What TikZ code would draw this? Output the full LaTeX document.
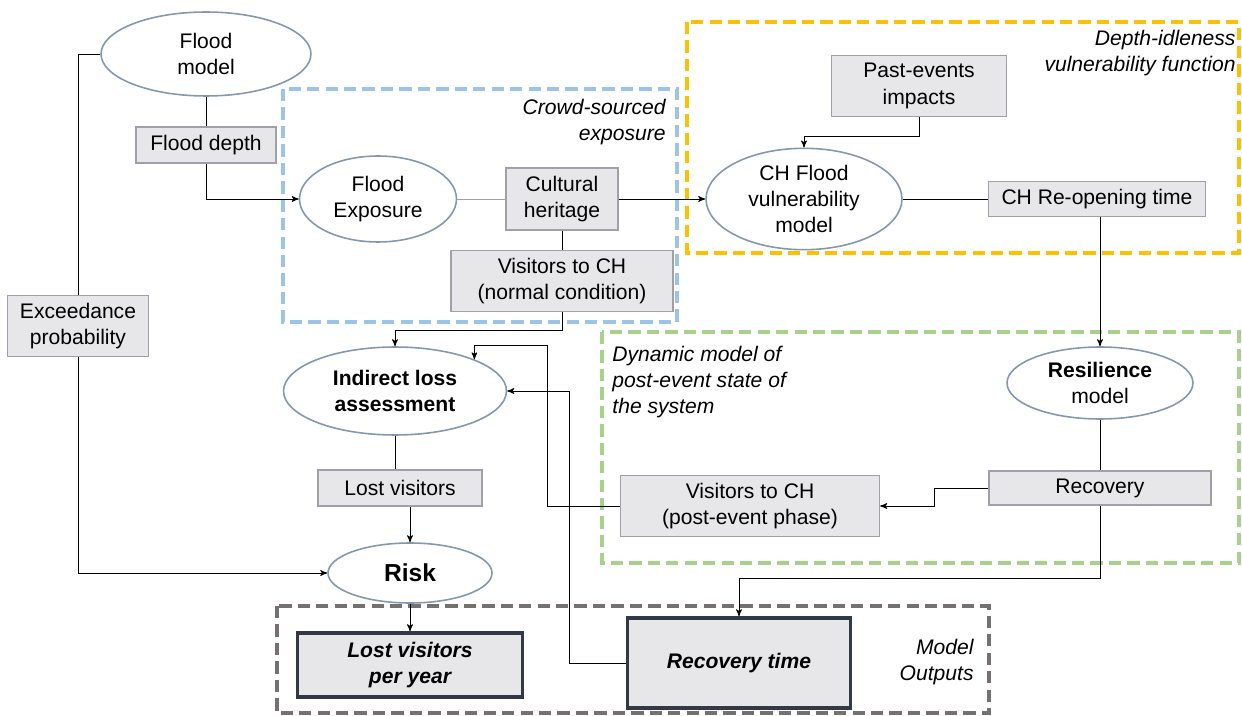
\documentclass[tikz,border=0pt]{standalone}
\usepackage{fontspec}
\setmainfont{Liberation Sans}
\usetikzlibrary{arrows, shapes}

\definecolor{ellipseline}{RGB}{132,151,176}
\definecolor{boxline}{RGB}{160,160,170}
\definecolor{boxfill}{RGB}{231,230,233}
\definecolor{outline}{RGB}{50,56,70}
\definecolor{crowdblue}{RGB}{157,195,230}
\definecolor{vulnyellow}{RGB}{255,192,0}
\definecolor{dyngreen}{RGB}{169,209,142}
\definecolor{outgray}{RGB}{118,113,113}

\begin{document}
\begin{tikzpicture}[x=0.02cm,y=-0.02cm,>=stealth',line width=0.5pt,
 font=\fontsize{12}{15}\selectfont,
 model node/.style={ellipse,draw=ellipseline,fill=white,line width=0.9pt,align=center,inner sep=1pt},
 data node/.style={rectangle,draw=boxline,fill=boxfill,line width=0.8pt,align=center},
 output node/.style={rectangle,draw=outline,fill=boxfill,line width=2pt,align=center,
   font=\fontsize{12}{15}\selectfont\bfseries\itshape},
 group frame/.style={line width=2.4pt,dash pattern=on 7pt off 3.5pt},
 frame label/.style={font=\fontsize{12}{15}\selectfont\itshape,align=right,inner sep=0pt}]
  \useasboundingbox (0,0) rectangle (1242,716);

  % dashed groups
  \draw[group frame,crowdblue] (283,89) rectangle (677,322);
  \draw[group frame,vulnyellow] (687,22) rectangle (1239,253);
  \draw[group frame,dyngreen] (602,332) rectangle (1239,563);
  \draw[group frame,outgray] (277,606) rectangle (989,713);

  % models
  \node[model node,minimum width=4.2cm,minimum height=1.68cm] (fmodel) at (206,54) {Flood\\model};
  \node[model node,minimum width=3.14cm,minimum height=1.72cm] (fexpo) at (378,199) {Flood\\Exposure};
  \node[model node,minimum width=3.92cm,minimum height=1.76cm] (chflood) at (804,199) {CH Flood\\vulnerability\\model};
  \node[model node,minimum width=3.72cm,minimum height=1.44cm] (resil) at (1100,383) {\textbf{Resilience}\\model};
  \node[model node,minimum width=4.46cm,minimum height=1.76cm,font=\fontsize{12}{15}\selectfont\bfseries] (indirect) at (395,391) {Indirect loss\\assessment};
  \node[model node,minimum width=3.28cm,minimum height=1.2cm,font=\fontsize{14}{16}\selectfont\bfseries] (risk) at (410,573) {Risk};

  % data
  \node[data node,minimum width=2.8cm,minimum height=0.72cm] (fdepth) at (206,145) {Flood depth};
  \node[data node,minimum width=2.82cm,minimum height=1.22cm] (exceed) at (78,326) {Exceedance\\probability};
  \node[data node,minimum width=2.24cm,minimum height=1.24cm] (cultural) at (562,199) {Cultural\\heritage};
  \node[data node,minimum width=4.44cm,minimum height=1.22cm] (visnormal) at (562,281) {Visitors to CH\\(normal condition)};
  \node[data node,minimum width=3.5cm,minimum height=1.22cm] (pastev) at (919,86) {Past-events\\impacts};
  \node[data node,minimum width=4.34cm,minimum height=0.7cm] (reopen) at (1097,199) {CH Re-opening time};
  \node[data node,minimum width=4.44cm,minimum height=0.68cm] (recov) at (1100,488) {Recovery};
  \node[data node,minimum width=5.18cm,minimum height=1.22cm] (vispost) at (750,506) {Visitors to CH\\(post-event phase)};
  \node[data node,minimum width=3.28cm,minimum height=0.72cm] (lost) at (400,488) {Lost visitors};

  % outputs
  \node[output node,minimum width=4.5cm,minimum height=1.28cm] (lostyear) at (410,665) {Lost visitors\\per year};
  \node[output node,minimum width=4.46cm,minimum height=1.8cm] (rectime) at (739,663) {Recovery time};

  % frame labels
  \node[frame label,anchor=east] (crowdlbl) at (666,122) {Crowd-sourced\\exposure};
  \node[frame label,anchor=east] (vulnlbl) at (1236,53) {Depth-idleness\\vulnerability function};
  \node[frame label,anchor=west,align=left] (dynlbl) at (612,382) {Dynamic model of\\post-event state of\\the system};
  \node[frame label,anchor=east] (outlbl) at (974,662) {Model\\Outputs};

  % links
  \foreach \s/\t in {fmodel/fdepth, cultural/visnormal, chflood/reopen, resil/recov}
   \draw (\s) -- (\t);
  \draw[boxline] (fexpo) -- (cultural);
  \foreach \s/\t in {cultural/chflood, risk/lostyear}
   \draw[->] (\s) -- (\t);
  \draw[->] (reopen.south -| resil.north) -- (resil.north);
  \draw (indirect.south) -- (indirect.south |- lost.north);
  \draw[->] (lost.south -| risk.north) -- (risk.north);

  \draw[->] (fdepth.south) |- (fexpo.west);
  \draw (fmodel.west) -| (exceed.north);
  \draw[->] (exceed.south) |- (risk.west);
  \draw[->] (visnormal.south) -- ++(0,18) -| (indirect.north);
  \draw[->] (pastev.south) -- ++(0,19) -| (chflood.north);
  \draw[->] (recov.west) -- ++(-54,0) |- (vispost.east);
  \draw[->] (recov.south) -- ++(0,73) -| (rectime.north);

  \coordinate (back1) at (547,345);
  \draw[->] (vispost.west) -| (back1) -| (indirect.north east);
  \draw[->] (rectime.west) -- ++(-56,0) |- (indirect.east);
\end{tikzpicture}
\end{document}
